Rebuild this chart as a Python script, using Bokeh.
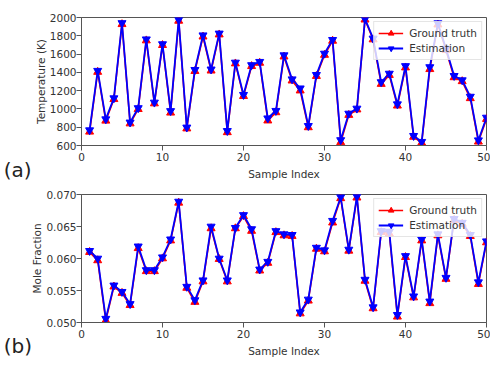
from bokeh.plotting import figure
from bokeh.layouts import column
from bokeh.models import Range1d, Label, FixedTicker, NumeralTickFormatter
from bokeh.embed import file_html
from bokeh.resources import INLINE

sample_index = list(range(1, 51))

temp_truth = [750, 1404, 870, 1106, 1926, 840, 997, 1748, 1059, 1697,
              958, 1963, 785, 1413, 1790, 1418, 1813, 744, 1496, 1140,
              1467, 1503, 872, 962, 1572, 1309, 1200, 798, 1359, 1590,
              1744, 635, 933, 993, 1976, 1759, 1272, 1370, 1035, 1452,
              694, 628, 1434, 1922, 1642, 1345, 1302, 1116, 641, 889]
temp_est = [768, 1418, 888, 1118, 1940, 853, 1010, 1762, 1071, 1709,
            978, 1976, 798, 1428, 1806, 1433, 1826, 760, 1508, 1155,
            1480, 1516, 898, 980, 1588, 1325, 1226, 815, 1373, 1606,
            1756, 660, 950, 1005, 1984, 1771, 1294, 1387, 1052, 1470,
            706, 641, 1458, 1938, 1660, 1362, 1315, 1135, 658, 906]

mole_truth = [0.0610, 0.0597, 0.0503, 0.0556, 0.0546, 0.0527, 0.0616, 0.0580, 0.0580, 0.0600,
              0.0628, 0.0687, 0.0554, 0.0532, 0.0564, 0.0647, 0.0599, 0.0564, 0.0647, 0.0666,
              0.0643, 0.0581, 0.0593, 0.0641, 0.0636, 0.0635, 0.0514, 0.0534, 0.0615, 0.0611,
              0.0656, 0.0694, 0.0612, 0.0695, 0.0565, 0.0522, 0.0641, 0.0639, 0.0509, 0.0602,
              0.0539, 0.0628, 0.0530, 0.0636, 0.0568, 0.0660, 0.0654, 0.0635, 0.0560, 0.0625]
mole_est = [0.0612, 0.0600, 0.0506, 0.0558, 0.0548, 0.0529, 0.0619, 0.0582, 0.0582, 0.0602,
            0.0630, 0.0689, 0.0556, 0.0535, 0.0566, 0.0650, 0.0600, 0.0566, 0.0648, 0.0668,
            0.0646, 0.0583, 0.0595, 0.0643, 0.0638, 0.0637, 0.0516, 0.0536, 0.0617, 0.0613,
            0.0659, 0.0696, 0.0614, 0.0697, 0.0567, 0.0524, 0.0643, 0.0642, 0.0512, 0.0604,
            0.0541, 0.0630, 0.0533, 0.0638, 0.0570, 0.0662, 0.0656, 0.0637, 0.0563, 0.0627]

x_ticks = [0, 10, 20, 30, 40, 50]
temp_ticks = [600, 800, 1000, 1200, 1400, 1600, 1800, 2000]
mole_ticks = [0.050, 0.055, 0.060, 0.065, 0.070]

FONT = "DejaVu Sans"
AX = "#555555"
TXT = "#333333"


def make_panel(truth, est, y0, y1, yticks, ylabel, tag, tag_y, height, top, bottom, fmt=None):
    p = figure(width=490, height=height, output_backend="svg", toolbar_location=None,
               x_range=Range1d(0, 50), y_range=Range1d(y0, y1),
               min_border_left=81, min_border_right=4, min_border_top=top, min_border_bottom=bottom)
    p.grid.visible = False
    p.outline_line_color = AX
    p.outline_line_width = 1
    p.background_fill_color = "white"
    p.border_fill_color = "white"
    for ax in (p.xaxis[0], p.yaxis[0]):
        ax.axis_line_color = AX
        ax.major_tick_line_color = AX
        ax.minor_tick_line_color = None
        ax.major_tick_out = 5
        ax.major_tick_in = 0
        ax.major_label_text_font = FONT
        ax.major_label_text_font_size = "10.5px"
        ax.major_label_text_color = TXT
        ax.major_label_standoff = 2
        ax.axis_label_text_font = FONT
        ax.axis_label_text_font_size = "10.5px"
        ax.axis_label_text_font_style = "normal"
        ax.axis_label_text_color = TXT
        ax.axis_label_standoff = 4
    p.yaxis.major_label_standoff = 0
    p.yaxis.axis_label_standoff = 0
    p.xaxis.ticker = FixedTicker(ticks=x_ticks)
    p.yaxis.ticker = FixedTicker(ticks=yticks)
    if fmt:
        p.yaxis.formatter = NumeralTickFormatter(format=fmt)
    p.xaxis.axis_label = "Sample Index"
    p.yaxis.axis_label = ylabel

    p.line(sample_index, truth, line_color="red", line_width=1.6, legend_label="Ground truth")
    p.scatter(sample_index, truth, marker="triangle", size=8, fill_color="red", line_color="red",
              legend_label="Ground truth")
    p.line(sample_index, est, line_color="blue", line_width=1.8, legend_label="Estimation")
    p.scatter(sample_index, est, marker="inverted_triangle", size=8, fill_color="blue", line_color="blue",
              legend_label="Estimation")

    lg = p.legend[0]
    lg.location = "top_right"
    lg.margin = 4
    lg.padding = 4
    lg.spacing = 1
    lg.glyph_width = 25
    lg.glyph_height = 14
    lg.label_height = 14
    lg.label_standoff = 6
    lg.label_text_font = FONT
    lg.label_text_font_size = "10.5px"
    lg.label_text_color = TXT
    lg.border_line_color = "#cccccc"
    lg.background_fill_alpha = 0.8

    p.add_layout(Label(x=-9.6, y=tag_y, text=tag, text_font=FONT, text_font_size="20px",
                       text_color="#222222", text_baseline="middle", text_align="left"), "left")
    return p


pa = make_panel(temp_truth, temp_est, 600, 2000, temp_ticks, "Temperature (K)", "(a)", 330,
                186, 17, 41)
pb = make_panel(mole_truth, mole_est, 0.050, 0.070, mole_ticks, "Mole Fraction", "(b)", 0.0463,
                180, 8, 44, fmt="0.000")

layout = column(pa, pb, spacing=0)
open("out.html", "w").write(file_html(layout, INLINE))
